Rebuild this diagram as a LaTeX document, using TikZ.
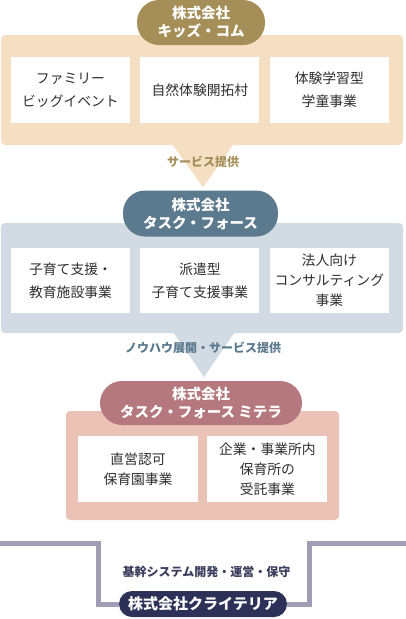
\documentclass[tikz,border=0pt]{standalone}
\usepackage{fontspec}
\setmainfont{Noto Sans CJK JP}
\usetikzlibrary{positioning,calc,backgrounds}
\definecolor{KidsGold}{HTML}{A58E57}
\definecolor{KidsSoft}{HTML}{F5DFC3}
\definecolor{TaskSlate}{HTML}{5C7A8E}
\definecolor{TaskSoft}{HTML}{D2DBE4}
\definecolor{MiteraRose}{HTML}{B5787E}
\definecolor{MiteraSoft}{HTML}{EAC3B6}
\definecolor{CritNavy}{HTML}{2E3157}
\definecolor{CritText}{HTML}{3B3D5C}
\definecolor{CritLine}{HTML}{A09DB5}
\definecolor{BoxText}{HTML}{2E2E2E}
\tikzset{
  PN/.style={rectangle,rounded corners=4pt,inner sep=0pt},
  BX/.style={rectangle,fill=white,inner sep=0pt,
             minimum width=119pt,minimum height=66pt,
             align=center,text=BoxText,font=\fontsize{13.8}{23}\selectfont},
  bxT/.style={BX,font=\fontsize{13.8}{20}\selectfont},
  PL/.style={rectangle,rounded corners=22pt,inner sep=0pt,
             minimum height=46pt,align=center,text=white,
             font=\bfseries\fontsize{14.5}{18}\selectfont},
  LB/.style={font=\bfseries\fontsize{12}{14}\selectfont},
  sysline/.style={line width=5pt,CritLine}
}

\begin{document}
\begin{tikzpicture}[x=1pt,y=-1pt]
  \useasboundingbox (0,0) rectangle (406,619);
  % Kids Com
  \node[PN,fill=KidsSoft,minimum width=402pt,minimum height=110pt] (kidsP) at (202,90) {};
  \node[PL,fill=KidsGold,minimum width=128pt,minimum height=45pt] (kids) at (201,22.5) {株式会社\\キッズ・コム};
  \node[BX] (kids1) at (70.5,90) {ファミリー\\ビッグイベント};
  \node[BX,right=10pt of kids1] (kids2) {自然体験開拓村};
  \node[BX,right=10pt of kids2] (kids3) {体験学習型\\学童事業};
  \fill[KidsSoft] ($(kidsP.south)+(-29,0)$) -- ($(kidsP.south)+(31,0)$) -- ($(kidsP.south)+(1,42)$) -- cycle;
  \node[LB,text=KidsGold] (kidsL) at (203,162) {サービス提供};

  % Task Force
  \node[PN,fill=TaskSoft,minimum width=402pt,minimum height=110pt] (taskP) at (202,278) {};
  \node[PL,fill=TaskSlate,minimum width=155pt] (task) at (200.5,213.5) {株式会社\\タスク・フォース};
  \node[BX,minimum height=65pt] (task1) at (70.5,280.5) {子育て支援・\\教育施設事業};
  \node[BX,minimum height=65pt,right=10pt of task1] (task2) {派遣型\\子育て支援事業};
  \node[bxT,minimum height=65pt,right=10pt of task2] (task3) {法人向け\\コンサルティング\\事業};
  \fill[TaskSoft] ($(taskP.south)+(-28,0)$) -- ($(taskP.south)+(32,0)$) -- ($(taskP.south)+(2,44)$) -- cycle;
  \node[LB,text=TaskSlate] (taskL) at (203,348) {ノウハウ展開・サービス提供};

  % Task Force Mitera
  \node[PN,fill=MiteraSoft,minimum width=273pt,minimum height=109pt] (mitP) at (202.5,465.5) {};
  \node[PL,fill=MiteraRose,minimum width=202pt,minimum height=44pt] (mit) at (201,403) {株式会社\\タスク・フォース ミテラ};
  \node[bxT,minimum width=120pt] (mit1) at (138,469) {直営認可\\保育園事業};
  \node[bxT,minimum width=120pt,right=9pt of mit1] (mit2) {企業・事業所内\\保育所の\\受託事業};

  % Criteria
  \node[PL,fill=CritNavy,minimum width=168pt,minimum height=26pt,rounded corners=13pt,
        font=\bfseries\fontsize{15}{18}\selectfont] (crit) at (203,604) {株式会社クライテリア};
  \node[LB,text=CritText] (critL) at (206.5,572) {基幹システム開発・運営・保守};
  \coordinate (lineL) at (0,543);
  \coordinate (lineR) at (406,543);
  \begin{scope}[on background layer]
    \draw[sysline] (lineL) -- (98,543) |- (crit.west);
    \draw[sysline] (crit.east) -| (309,543) -- (lineR);
  \end{scope}
\end{tikzpicture}
\end{document}
